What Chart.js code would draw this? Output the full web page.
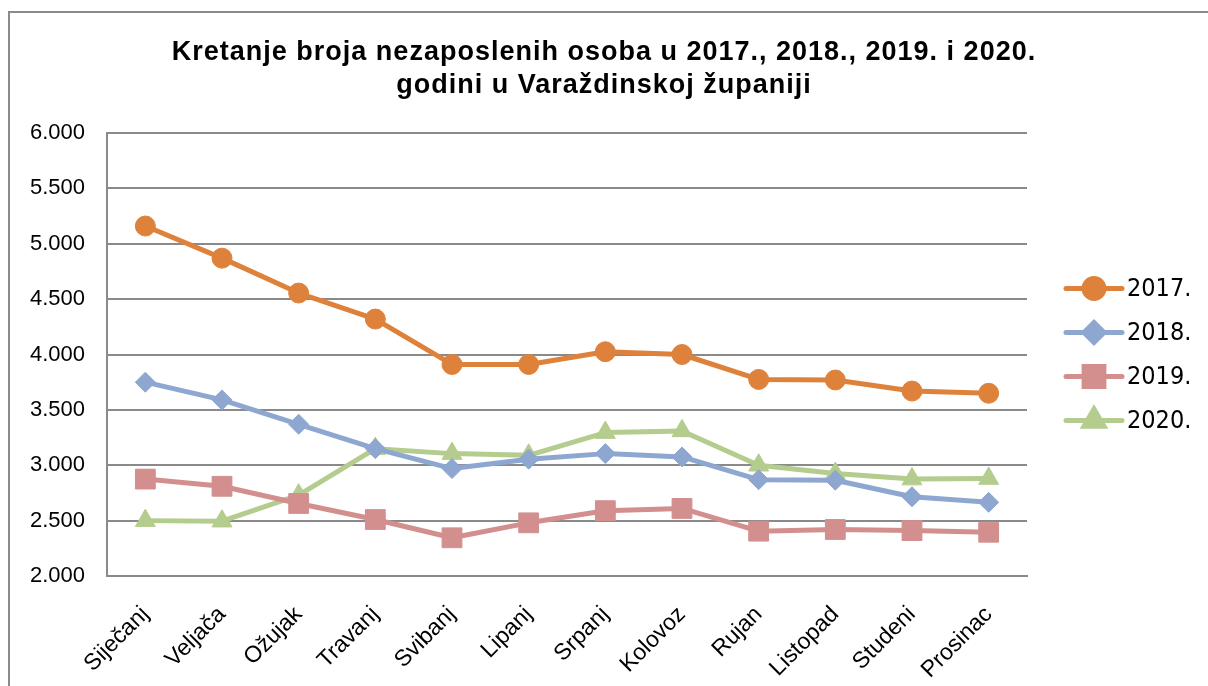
<!DOCTYPE html>
<html>
<head>
<meta charset="utf-8">
<script src="https://cdn.jsdelivr.net/npm/chart.js"></script>
<style>
  body { margin: 0; background: #fff; }
  .frame {
    position: absolute; left: 8px; top: 11px; width: 1210px; height: 690px;
    border-left: 2px solid #8a8a8a; border-top: 2px solid #8a8a8a;
  }
  #chart { position: absolute; left: 0; top: 0; }
</style>
</head>
<body>
<div class="frame"></div>
<canvas id="chart" width="1208" height="686"></canvas>
<script>
const months = ['Siječanj', 'Veljača', 'Ožujak', 'Travanj', 'Svibanj', 'Lipanj',
  'Srpanj', 'Kolovoz', 'Rujan', 'Listopad', 'Studeni', 'Prosinac'];

const years = ['2017.', '2018.', '2019.', '2020.'];

const values2017 = [5160, 4870, 4555, 4320, 3910, 3910, 4025, 4000, 3775, 3770, 3670, 3650];
const values2018 = [3750, 3590, 3370, 3150, 2970, 3055, 3105, 3075, 2870, 2865, 2715, 2665];
const values2019 = [2875, 2810, 2655, 2510, 2345, 2480, 2590, 2610, 2405, 2420, 2410, 2395];
const values2020 = [2500, 2495, 2730, 3150, 3105, 3090, 3295, 3310, 3000, 2925, 2875, 2880];

const TITLE = ['Kretanje broja nezaposlenih osoba u 2017., 2018., 2019. i 2020.',
  'godini u Varaždinskoj županiji'];

const colors = ['#de823b', '#8ea7d0', '#d28f8e', '#b4cc8e'];
const markers = ['circle', 'rectRot', 'rect', 'triangle'];
const markerSizes = [10, 10, 14, 11.5];

const FONT = '"Liberation Sans", Arial, sans-serif';

const formatThousands = (value) => String(value).replace(/\B(?=(\d{3})+(?!\d))/g, '.');

const createDataset = (label, data, i) => ({
  label,
  data,
  borderColor: colors[i],
  backgroundColor: colors[i],
  borderWidth: 5,
  borderJoinStyle: 'round',
  borderCapStyle: 'round',
  pointStyle: markers[i],
  pointRadius: markerSizes[i],
  pointHoverRadius: markerSizes[i],
  pointBorderWidth: 1,
  pointBorderColor: colors[i],
  pointBackgroundColor: colors[i],
  tension: 0,
});

const drawMarker = (ctx, style, radius, x, y) => {
  Chart.helpers.drawPoint(ctx, { pointStyle: style, radius, borderWidth: 1, rotation: 0 }, x, y);
};

// title + legend drawn here so the title stays centred on the whole picture
const titleAndLegend = {
  id: 'titleAndLegend',
  afterDraw(chart) {
    const { ctx, chartArea } = chart;
    ctx.save();

    ctx.fillStyle = '#000';
    ctx.textAlign = 'center';
    ctx.textBaseline = 'middle';
    ctx.font = `bold 27px ${FONT}`;
    ctx.letterSpacing = '1px';
    TITLE.forEach((line, i) => ctx.fillText(line, chart.width / 2, 53 + i * 33));
    ctx.letterSpacing = '0px';

    const centerY = (chartArea.top + chartArea.bottom) / 2;
    const startX = chartArea.right + 39;
    chart.data.datasets.forEach((ds, i) => {
      const y = centerY + (i - 1.5) * 44;
      ctx.strokeStyle = ds.borderColor;
      ctx.lineWidth = 5;
      ctx.lineCap = 'round';
      ctx.beginPath();
      ctx.moveTo(startX, y);
      ctx.lineTo(startX + 56, y);
      ctx.stroke();

      ctx.fillStyle = ds.borderColor;
      ctx.strokeStyle = ds.borderColor;
      drawMarker(ctx, ds.pointStyle, ds.pointRadius, startX + 28, y);

      ctx.fillStyle = '#000';
      ctx.textAlign = 'left';
      ctx.font = `25px "DejaVu Sans Condensed", "DejaVu Sans", sans-serif`;
      ctx.fillText(ds.label, startX + 61, y + 1);
    });

    ctx.restore();
  },
};

new Chart(document.getElementById('chart'), {
  type: 'line',
  plugins: [titleAndLegend],
  data: {
    labels: months,
    datasets: [
      createDataset(years[0], values2017, 0),
      createDataset(years[1], values2018, 1),
      createDataset(years[2], values2019, 2),
      createDataset(years[3], values2020, 3),
    ],
  },
  options: {
    responsive: false,
    animation: false,
    layout: { padding: { top: 133, right: 181, left: 0, bottom: 0 } },
    plugins: {
      legend: { display: false },
      title: { display: false },
      tooltip: { enabled: false },
    },
    scales: {
      x: {
        offset: true,
        grid: { display: false, drawTicks: false },
        border: { display: true, color: '#8a8a8a', width: 2 },
        ticks: {
          color: '#000',
          font: { family: FONT, size: 23 },
          minRotation: 45,
          maxRotation: 45,
          padding: 25,
          autoSkip: false,
        },
        afterFit: (scale) => { scale.height = 110; },
      },
      y: {
        min: 2000,
        max: 6000,
        grid: { color: '#8a8a8a', lineWidth: 2, drawTicks: false },
        border: { display: true, color: '#8a8a8a', width: 2 },
        ticks: {
          stepSize: 500,
          color: '#000',
          font: { family: FONT, size: 22 },
          padding: 22,
          callback: (value) => formatThousands(value),
        },
        afterFit: (scale) => { scale.width = 107; },
      },
    },
  },
});
</script>
</body>
</html>
